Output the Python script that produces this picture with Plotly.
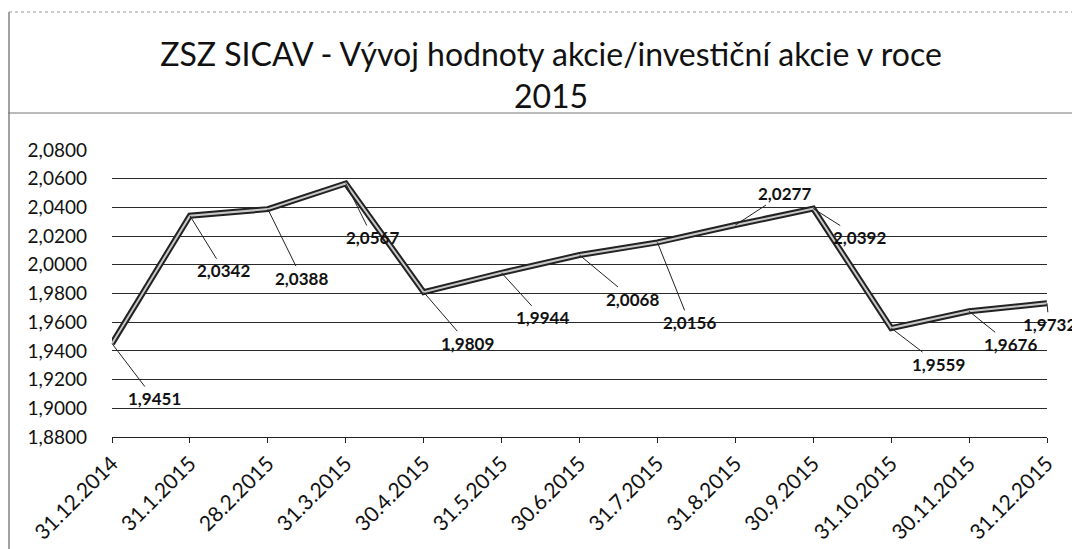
import plotly.graph_objects as go

dates = ["31.12.2014", "31.1.2015", "28.2.2015", "31.3.2015", "30.4.2015", "31.5.2015",
         "30.6.2015", "31.7.2015", "31.8.2015", "30.9.2015", "31.10.2015", "30.11.2015",
         "31.12.2015"]
values = [1.9451, 2.0342, 2.0388, 2.0567, 1.9809, 1.9944, 2.0068, 2.0156, 2.0277, 2.0392,
          1.9559, 1.9676, 1.9732]
label_texts = ["1,9451", "2,0342", "2,0388", "2,0567", "1,9809", "1,9944", "2,0068", "2,0156",
               "2,0277", "2,0392", "1,9559", "1,9676", "1,9732"]
# label offsets (pixels) from point, as in the reference
label_dx = [42, 34, 34, 27, 44, 41, 53, 32, 49, 46, 47, 41, 2]
label_dy = [55, 55, 69, 54, 51, 45, 44, 80, -32, 29, 36, 33, 21]

title_text = "ZSZ SICAV - Vývoj hodnoty akcie/investiční akcie v roce<br>2015"
FONT = "Lato, Carlito, Calibri, 'Open Sans', sans-serif"

W, H = 1080, 549
L, R, T, B = 104, 41, 142, 120
PW, PH = W - L - R, H - T - B


def px_x(fx):
    return (fx - L) / PW


def px_y(fy):
    return (H - B - fy) / PH


fig = go.Figure()
fig.add_trace(go.Scatter(x=dates, y=values, mode="lines",
                         line=dict(color="#222222", width=6), hoverinfo="skip",
                         showlegend=False))
fig.add_trace(go.Scatter(x=dates, y=values, mode="lines",
                         line=dict(color="#c8c8c8", width=2),
                         showlegend=False))

for d, v, t, dx, dy in zip(dates, values, label_texts, label_dx, label_dy):
    fig.add_annotation(x=d, y=v, text="<b>" + t + "</b>", showarrow=True, arrowhead=0,
                       arrowwidth=1, arrowcolor="#222222", ax=dx, ay=dy,
                       font=dict(family=FONT, size=17, color="#111111"),
                       bgcolor="rgba(0,0,0,0)")

fig.update_layout(
    width=W, height=H,
    margin=dict(l=L, r=R, t=T, b=B, autoexpand=False),
    paper_bgcolor="white", plot_bgcolor="white",
    separators=", ",
    font=dict(family=FONT, color="#111111"),
    title=dict(text=title_text, x=543 / W, xanchor="center", xref="container",
               y=1 - 58 / H, yanchor="middle", yref="container",
               font=dict(family=FONT, size=32, color="#111111")),
    showlegend=False,
)
fig.update_xaxes(type="category", tickangle=-45, ticks="outside", ticklen=5,
                 tickcolor="#222222", showline=True, linecolor="#222222", linewidth=1,
                 showgrid=False, tickfont=dict(family=FONT, size=21, color="#111111"),
                 range=[0, len(dates) - 1], automargin=False)
fig.update_yaxes(range=[1.88, 2.08], dtick=0.02, tickformat=".4f", showgrid=True,
                 gridcolor="#2a2a2a", gridwidth=1, zeroline=False, showline=False,
                 tickfont=dict(family=FONT, size=19, color="#111111"), ticks="",
                 ticklabelstandoff=24, automargin=False)

# chart border line on the left, rule below the title and faint top edge, as in the scan
fig.add_shape(type="line", xref="paper", yref="paper",
              x0=px_x(1), x1=px_x(1), y0=px_y(H), y1=px_y(4),
              line=dict(color="#444444", width=1))
fig.add_shape(type="line", xref="paper", yref="paper",
              x0=px_x(-10), x1=px_x(W), y0=px_y(105), y1=px_y(105),
              line=dict(color="#777777", width=1))
fig.add_shape(type="line", xref="paper", yref="paper",
              x0=px_x(1), x1=px_x(W), y0=px_y(4), y1=px_y(4),
              line=dict(color="#999999", width=1, dash="dot"))

fig.write_html("out.html")
